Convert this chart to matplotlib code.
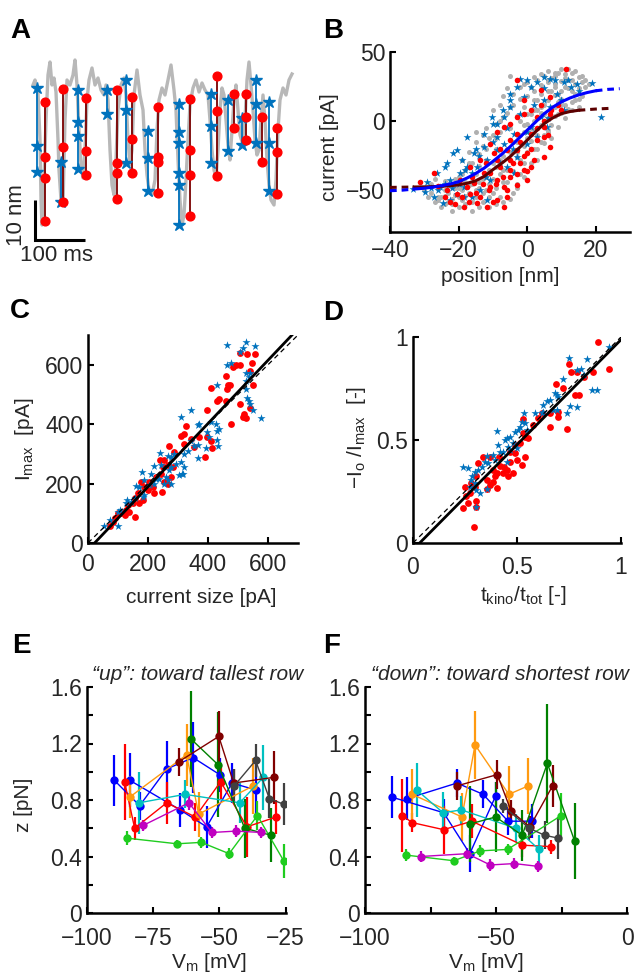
import matplotlib
matplotlib.use("Agg")
import matplotlib.pyplot as plt

plt.rcParams['font.family'] = ['Liberation Sans', 'DejaVu Sans']
plt.rcParams['font.size'] = 15
plt.rcParams['xtick.labelsize'] = 16.5
plt.rcParams['ytick.labelsize'] = 16.5
plt.rcParams['mathtext.fontset'] = 'custom'
plt.rcParams['mathtext.rm'] = 'Liberation Sans'
plt.rcParams['mathtext.it'] = 'Liberation Sans:italic'
plt.rcParams['axes.linewidth'] = 1.8
plt.rcParams['xtick.direction'] = 'in'
plt.rcParams['ytick.direction'] = 'in'
plt.rcParams['xtick.major.size'] = 4
plt.rcParams['ytick.major.size'] = 4
plt.rcParams['xtick.minor.size'] = 4
plt.rcParams['ytick.minor.size'] = 4
plt.rcParams['xtick.major.width'] = 1.5
plt.rcParams['ytick.major.width'] = 1.5
plt.rcParams['xtick.minor.width'] = 1.5
plt.rcParams['ytick.minor.width'] = 1.5

INK = '#262626'
MBLUE = '#0072bd'

# ---------------- panel A: trace (ms, nm) ----------------
trace_t = [6, 10, 16, 20, 22, 24, 28, 32, 36, 40, 44, 48, 52, 56, 58, 62, 66, 70, 74, 80,
           86, 90, 94, 98, 102, 106, 110, 114, 118, 124, 130, 136, 142, 148, 152, 156, 160,
           164, 168, 172, 176, 182, 188, 192, 196, 200, 204, 208, 214, 220, 226, 230, 234,
           238, 244, 250, 254, 258, 264, 270, 276, 282, 288, 292, 296, 300, 304, 308, 312,
           316, 320, 326, 332, 338, 344, 350, 356, 360, 364, 368, 372, 376, 380, 384, 388,
           392, 396, 400, 404, 408, 412, 416, 420, 426, 430, 434, 438, 442, 446, 450, 454,
           458, 462, 466, 470, 474, 478, 482, 488, 492, 496, 500, 506, 512, 518, 524]
trace_z = [41.25, 42.5, 39.5, 27.5, 12.5, 6.25, 17.5, 32.5, 43.75, 47, 41.25, 43, 39.5, 27.5,
           20, 12.5, 11.25, 32.5, 42.5, 41.25, 43.75, 47.5, 41.25, 30, 21.25, 18, 25, 37.5,
           42.5, 45.5, 41.25, 43, 40, 38.75, 41.25, 37.5, 25, 16.25, 13.75, 22.5, 35, 41.25,
           43, 38.75, 27.5, 21.25, 25, 38.75, 45, 38.75, 35, 25, 18.75, 15, 13.75, 17.5, 30,
           37.5, 40.5, 38.75, 42.5, 46.25, 40, 35, 22.5, 12.5, 6.25, 8.75, 17.5, 27.5, 36.25,
           40.5, 42.5, 39.5, 41.75, 40, 38.75, 32.5, 25, 20, 18, 25, 35, 40.5, 38.75, 32.5,
           26.25, 22.5, 30, 37.5, 41.25, 35, 28.75, 26.25, 32.5, 42.5, 47, 41.25, 35, 27.5,
           23.75, 25, 32.5, 38.75, 32.5, 22.5, 16.25, 12.5, 11.25, 17.5, 30, 37.5, 40.5,
           38.75, 42.5, 44]

a_blue_t = [14, 62, 96, 154, 192, 236, 298, 362, 396, 424, 452, 478]
a_blue_z = [[40.5, 26, 19.5], [22, 12], [40, 32, 28.5, 20.25], [40, 34], [42.5, 35, 21.75],
            [29.75, 23, 14.75], [36.5, 29.5, 26.75, 19.25, 16.25, 6.25], [39, 31, 21.75],
            [37.5, 24.75], [33, 26.25], [42.5, 36.5, 26.75], [37, 26.75, 14.75]]
a_red_t = [30, 66, 112, 174, 204, 256, 320, 374, 408, 432, 464, 494]
a_red_z = [[37, 23.25, 18, 7.25], [40.25, 25.75, 12], [38, 24.75, 18.75],
           [40, 21.75, 19.25, 12.75], [38.25, 27.75, 19.25], [35.75, 23.25, 22, 14.25],
           [37.75, 25, 18.75, 8.5], [43.5, 34.75, 18.5], [39, 30.5], [39, 33.25, 27.5],
           [33.25, 22], [30.5, 24.5, 14]]

# ---------------- panel B: current vs position ----------------
b_gray_x = [5, 7, 9, 11, 12, 13, 14, 15, 16, 17, 10, 8, 6, 4, 3, 2, 1, -1, -3, -5, 0, 2, 4, 6, 8,
            10, 12, 14, 16, 13, 11, 9, 7, 5, 3, 1, -1, -2, -4, -6, -7, -8, -3, 0, 2, 4, 6, 8, 10,
            12, 15, 9, 7, 5, 3, 1, -1, -3, -5, -7, -9, -10, -12, -11, -13, -9, -7, -5, -3, -1,
            -6, -8, -10, -12, -14, -16, -15, -13, -11, -9, -7, -5, -3, -2, -17, -19, -18, -20,
            -22, -24, -26, -28, -25, -23, -21, -19, -17, -15, -13, -11, -9, -14, -16, -18, -20,
            -22, -24, -26, -28, -30, -27, -12, -10, -8, -6, -4, -20, -16, -14, 2, 4, 6, 0, 3,
            -1, -5, -2, -15, -8, 11, 13, 15, 6, 8,
            -26, -25, -24, -23, -22, -21, -20, -19, -18, -17, -16, -15, -14, -13, -12, -11, -10,
            -9, -8, -7, -6, -5, -4, -3, -2, -1, 0, 1, 2, 3, 4, 5, 6, 7, 8, 9, 10, 11, 12, 13, 14,
            15, 16, 17, 18, -2, 0, 2, 4, 6, 8, 10, -4, -6, -8, -10, -12, -14, -16, -18, -20, -22,
            -24, -11, -7, -5, -3, -1, 1, 3, 5, 7, 9, 11, 13, 14, -9, -13, -15, -17, -19, -21,
            -23, -25, -27, -29, -6, -4, -2, 0, 2, 4, 6, 8, 10]
b_gray_y = [33, 31, 35, 34, 38, 30, 27, 32, 28, 25, 29, 27, 28, 26, 30, 22, 25, 27, 30, 33, 18,
            15, 20, 22, 19, 22, 24, 20, 18, 14, 12, 14, 10, 12, 8, 5, 10, 16, 20, 24, 18, 12, 4,
            -2, -6, -3, 2, 4, 6, 9, 10, -4, -12, -16, -10, -14, -8, -15, -5, 3, -2, 8, -5, -12,
            -18, -20, -25, -22, -26, -30, -35, -38, -30, -28, -24, -30, -38, -42, -45, -48, -44,
            -40, -45, -38, -22, -28, -35, -40, -45, -50, -48, -52, -55, -58, -53, -57, -52, -55,
            -58, -55, -60, -62, -65, -60, -62, -65, -60, -57, -45, -50, -42, -50, -52, -55, -50,
            -52, -48, -45, -48, -20, -15, -8, -22, -28, -18, 10, 0, -8, -8, 31, 22, 16, 30, 35,
            -55, -47, -43, -52, -56, -48, -44, -50, -54, -46, -58, -50, -44, -52, -40, -35, -42,
            -33, -28, -35, -20, -28, -15, -22, -10, -3, 5, -5, 8, 15, 10, 5, 15, 22, 25, 20, 16,
            25, 30, 35, 36, 24, 33, 30, 27, 25, 28, 32, 34, 36, 33, 38, 12, 6, 0, -10, -20, -32,
            -40, -44, -55, -60, -54, -62, -58, -56, -48, -40, -30, -20, -10, -3, 5, 2, 8, 15,
            -12, -10, -15, -30, -38, -42, -46, -62, -58, -55, -44, -36, -28, -12, 0, 6, -6, 10,
            12]
b_blue_x = [-2.1, 6.8, 10.7, 19.0, 21.5, 4.9, -1.0, -4.9, -10.2, -8.8, -12.7, -17.6, -20.5,
            -21.5, -23.4, -23.9, -26.3, -29.3, -29.8, -33.2, -24.4, -20.5, -18.5, -16.1, -14.6,
            -11.7, -8.8, -6.8, -3.9, 1.0, 3.9, 6.8, 8.8, 12.7, 14.6, 1.0, -4.9, -6.8, -8.8,
            -12.7, -15.6, -17.6, -19.5, -22.4, -25.4, -18.5, -13.7, -10.7, -5.9, -2.9, 0, 2.9,
            5.9, 10.7, 4.9, -3.9, -11.7, -22.4, -27.3,
            -5, -3, 0, 3, 8, 12, 15, 2, -2, -6, -10, -14, -18, -22, -26, -16, -8, -4, 0, 6, 10,
            -12, -20, -24, -28, -10, -7, -15, -19, 5]
b_blue_y = [30.3, 30.8, 28.4, 27.6, 3.1, 15.1, 17.5, 10.3, 3.1, -1.7, -8.9, -11.3, -20.9,
            -23.3, -30.5, -32.9, -37.7, -43.8, -51, -48.6, -59.4, -52.2, -47.4, -37.7, -32.9,
            -28.1, -20.9, -16.1, -8.9, -4.1, 3.1, 10.3, 20.0, 24.8, 27.2, 24.8, 15.1, 3.1,
            -11.3, -18.5, -23.3, -32.9, -37.7, -42.5, -47.4, -54.6, -49.8, -42.5, -32.9, -25.7,
            -16.1, -11.3, -4.1, 7.9, 32.0, -37.7, -57.0, -57.0, -54.6,
            20, 25, 30, 28, 30, 30, 22, 12, 5, -5, -15, -25, -35, -48, -50, -55, -30, -20, -8, 2,
            15, -40, -45, -45, -48, -2, 8, -20, -28, 24]
b_red_x = [11.2, -1.0, 1.0, -2.9, -6.8, -8.8, -10.7, -4.9, -2.9, 0, 4.9, 6.8, 2.9, 4.9, 0, -2.9,
           -5.9, -6.8, -8.8, -11.7, -14.6, -18.5, -22.4, -20.5, -23.4, -27.3, -31.2, -19.5,
           -16.6, -13.7, -10.7, -7.8, -4.9, -2.0, 1.0, -5.9, -8.8, -12.7, -15.6, -17.6, 2.9,
           6.8, 9.8, -2.9, 1.0, 4.9, -6.8, -10.7, -13.7, -16.6, -8.8, -4.9, -1.0, 3.9, -2.9,
           6.8, -4.9, -9.8,
           -26, -24, -21, -19, -17, -15, -13, -11, -9, -7, -5, -3, -1, 1, 3, 5, 7, 9, -4, -8, -12,
           -16, -2, 2, 0, -6, -10, 4, -1, 6]
b_red_y = [38.0, 15.1, 7.9, 3.1, -4.1, -7.7, -16.1, -13.7, -20.9, -23.3, -25.7, -18.5, -13.7,
           -4.1, -42.5, -46.2, -54.6, -61.8, -57.0, -61.8, -59.4, -61.8, -58.2, -52.2, -49.8,
           -37.7, -43.8, -42.5, -32.9, -28.1, -37.7, -32.9, -28.1, -30.5, -32.9, -20.9, -28.1,
           -37.7, -44.9, -47.4, 3.1, 5.5, 7.9, -8.9, -8.9, -11.3, -47.4, -47.4, -54.6, -52.2,
           -42.5, -40.1, -35.3, 22.4, 29.6, 17.5, -1.7, -23.3,
           -47, -55, -60, -55, -58, -52, -45, -50, -45, -40, -35, -38, -25, -20, -5, 0, 8, 12,
           -30, -20, -30, -40, -15, -28, -36, -50, -58, 12, 5, -10]
fit_blue_x = [-33, -30, -27.5, -25, -22.5, -20, -17.5, -15, -12.5, -10, -7.5, -5, -2.5, 0, 2.5,
              5, 7.5, 10, 12.5, 15, 17.5, 20]
fit_blue_y = [-49, -48.4, -47.6, -46.6, -45.3, -43.7, -41, -37.7, -33.8, -29, -24, -18.5,
              -12.5, -6.5, -0.5, 5.5, 10.2, 14, 16.8, 19, 20.7, 22]
ext_blue_x = [[-40, -36.5, -33], [20, 23.5, 27]]
ext_blue_y = [[-50.2, -49.8, -49], [22, 23, 23.5]]
fit_red_x = [-33, -30, -27.5, -25, -22.5, -20, -17.5, -15, -12.5, -10, -7.5, -5, -2.5, 0, 2.5,
             5, 7.5, 10, 12.5, 15]
fit_red_y = [-47.5, -47.4, -47.2, -47, -46.6, -46, -44.8, -43, -39.8, -35, -30.5, -25.7,
             -19.7, -13.7, -7.5, -1.7, 2.5, 5.5, 7, 7.9]
ext_red_x = [[-40, -33], [15, 20, 25]]
ext_red_y = [[-47.8, -47.5], [7.9, 8.8, 9.4]]

# ---------------- panel C: Imax vs current size ----------------
c_red_x = [508, 530, 555, 547, 508, 492, 484, 541, 459, 466, 473, 462, 550, 431, 436, 459, 409,
           398, 508, 541, 519, 525, 517, 475, 326, 320, 309, 343, 370, 354, 398, 409, 389, 414,
           271, 241, 249, 265, 282, 243, 276, 254, 265, 245, 215, 204, 177, 188, 219, 166, 157,
           171, 149, 133, 127, 111, 99, 155, 91, 83, 72, 287, 320, 254, 227, 199, 182, 138, 122]
c_red_y = [639, 636, 636, 606, 600, 598, 591, 580, 561, 531, 531, 517, 531, 478, 483, 478, 520,
           447, 469, 453, 433, 420, 424, 402, 394, 367, 361, 350, 356, 322, 356, 344, 291, 320,
           328, 278, 256, 261, 256, 233, 222, 206, 198, 170, 189, 206, 206, 189, 167, 167, 150,
           133, 133, 128, 111, 100, 100, 89, 83, 72, 56, 306, 333, 278, 222, 178, 144, 106, 94]
c_blue_x = [464, 528, 555, 517, 506, 475, 462, 528, 541, 536, 525, 525, 530, 536, 541, 550, 575,
            429, 343, 309, 370, 367, 409, 425, 436, 431, 398, 403, 431, 433, 392, 365, 367, 332,
            320, 309, 312, 318, 304, 320, 276, 265, 241, 278, 271, 260, 265, 254, 238, 219, 210,
            179, 204, 221, 171, 160, 188, 182, 155, 144, 130, 127, 108, 99, 72, 53, 99, 188, 276,
            293, 243, 227, 343, 354, 287]
c_blue_y = [667, 678, 664, 655, 642, 606, 598, 572, 572, 558, 544, 517, 489, 478, 467, 447, 420,
            531, 448, 424, 402, 398, 406, 400, 383, 378, 372, 356, 347, 328, 320, 331, 287, 309,
            300, 272, 231, 231, 228, 256, 289, 294, 302, 256, 244, 222, 211, 200, 217, 258, 231,
            239, 194, 200, 189, 191, 161, 156, 150, 139, 144, 133, 111, 106, 78, 56, 58, 213, 200,
            267, 261, 217, 344, 328, 300]
c_fit_x = [22, 680]
c_fit_y = [0, 700]
c_unity = [0, 700]

# ---------------- panel D: -Io/Imax vs tkino/ttot ----------------
d_red_x = [0.889, 0.941, 0.865, 0.820, 0.748, 0.759, 0.788, 0.796, 0.780, 0.688, 0.720, 0.740,
           0.699, 0.699, 0.659, 0.659, 0.603, 0.619, 0.579, 0.531, 0.531, 0.539, 0.539, 0.523,
           0.502, 0.490, 0.466, 0.466, 0.482, 0.458, 0.434, 0.437, 0.418, 0.405, 0.394, 0.383,
           0.402, 0.370, 0.354, 0.338, 0.370, 0.314, 0.305, 0.297, 0.281, 0.273, 0.257, 0.249,
           0.238, 0.265, 0.305, 0.302, 0.293, 0.354, 0.415, 0.514, 0.555, 0.490, 0.450, 0.386]
d_red_y = [0.976, 0.847, 0.831, 0.806, 0.871, 0.831, 0.831, 0.718, 0.718, 0.771, 0.750, 0.552,
           0.637, 0.610, 0.629, 0.561, 0.605, 0.629, 0.573, 0.600, 0.535, 0.513, 0.419, 0.379,
           0.403, 0.435, 0.444, 0.395, 0.339, 0.323, 0.339, 0.371, 0.374, 0.339, 0.323, 0.298,
           0.266, 0.282, 0.261, 0.419, 0.419, 0.387, 0.323, 0.274, 0.290, 0.242, 0.226, 0.274,
           0.169, 0.194, 0.202, 0.177, 0.076, 0.306, 0.419, 0.484, 0.508, 0.476, 0.355, 0.355]
d_blue_x = [0.941, 0.836, 0.748, 0.807, 0.788, 0.820, 0.723, 0.683, 0.691, 0.699, 0.659, 0.643,
            0.627, 0.619, 0.587, 0.627, 0.672, 0.756, 0.788, 0.860, 0.887, 0.740, 0.691, 0.534,
            0.539, 0.514, 0.506, 0.490, 0.466, 0.450, 0.442, 0.402, 0.482, 0.458, 0.498, 0.466,
            0.434, 0.418, 0.386, 0.354, 0.346, 0.362, 0.330, 0.314, 0.297, 0.286, 0.265, 0.238,
            0.281, 0.297, 0.273, 0.305, 0.322, 0.354, 0.305, 0.394, 0.410, 0.523, 0.547, 0.450]
d_blue_y = [0.952, 0.895, 0.900, 0.847, 0.839, 0.815, 0.798, 0.729, 0.718, 0.710, 0.694, 0.690,
            0.669, 0.629, 0.632, 0.637, 0.645, 0.665, 0.658, 0.742, 0.742, 0.629, 0.645, 0.629,
            0.581, 0.565, 0.548, 0.540, 0.516, 0.508, 0.500, 0.544, 0.484, 0.468, 0.460, 0.452,
            0.444, 0.444, 0.427, 0.423, 0.395, 0.387, 0.371, 0.355, 0.347, 0.326, 0.363, 0.368,
            0.306, 0.290, 0.274, 0.258, 0.242, 0.261, 0.177, 0.403, 0.476, 0.589, 0.548, 0.395]
d_fit_x = [0.032, 1.0]
d_fit_y = [0.0, 0.987]
d_unity = [0, 1]

# ---------------- panels E/F: z vs Vm per cell ----------------
cell_colors = ['#0000ff', '#0000ff', '#ff0000', '#ff9a10', '#00c0c0', '#1fcc1f', '#008000',
               '#800000', '#c000c0', '#404040']
e_vm = [[-89.7, -80.1, -69.9, -59.9, -49.9],
        [-83.9, -64.8, -54.8, -45.2, -36.0],
        [-85.8, -82.0, -69.9, -59.1, -49.5, -39.6, -28.5],
        [-83.9, -62.4, -57.8, -37.2],
        [-80.4, -63.0, -42.3, -33.4],
        [-84.9, -66.0, -56.8, -46.3, -35.6, -25.7],
        [-60.6, -50.5, -40.4, -30.4],
        [-65.4, -50.2, -44.6, -29.5],
        [-78.8, -61.5, -52.8, -43.6, -34.1],
        [-44.4, -36.3, -31.1, -25.7]]
e_z = [[0.94, 0.76, 1.02, 1.10, 0.98],
       [0.94, 0.73, 0.61, 0.92, 0.87],
       [0.93, 0.60, 0.78, 0.68, 0.93, 0.61, 0.68],
       [0.82, 1.12, 0.70, 0.90],
       [0.78, 0.84, 0.78, 0.96],
       [0.53, 0.49, 0.50, 0.42, 0.69, 0.37],
       [1.23, 1.05, 0.60, 0.55],
       [1.07, 1.25, 0.92, 0.96],
       [0.62, 0.78, 0.57, 0.58, 0.57],
       [0.90, 1.08, 0.81, 0.77]]
e_err = [[0.18, 0.10, 0.20, 0.25, 0.12],
         [0.19, 0.12, 0.15, 0.14, 0.20],
         [0.27, 0.08, 0.15, 0.10, 0.12, 0.21, 0.12],
         [0.15, 0.22, 0.16, 0.20],
         [0.22, 0.10, 0.14, 0.23],
         [0.05, 0.03, 0.04, 0.04, 0.10, 0.12],
         [0.34, 0.37, 0.21, 0.19],
         [0.10, 0.18, 0.10, 0.19],
         [0.04, 0.05, 0.04, 0.04, 0.04],
         [0.12, 0.12, 0.14, 0.15]]
f_vm = [[-89.7, -70.0, -60.0, -50.1],
        [-83.9, -64.9, -54.9, -45.4, -36.3],
        [-85.8, -82.0, -70.0, -59.2, -39.9, -28.9],
        [-82.0, -63.0, -58.0, -45.1, -37.7],
        [-80.2, -70.2, -63.2, -42.4, -33.6],
        [-84.4, -66.1, -56.0, -45.6, -25.1],
        [-60.0, -50.1, -40.0, -30.4, -20.0],
        [-64.9, -49.5, -44.2, -37.1, -28.4],
        [-78.7, -61.0, -52.2, -43.0, -33.9],
        [-47.5, -37.3, -31.4, -26.2]]
f_z = [[0.82, 0.71, 0.42, 0.83],
       [0.81, 0.92, 0.84, 0.65, 0.65],
       [0.69, 0.64, 0.59, 0.65, 0.48, 0.47],
       [0.84, 0.68, 1.19, 0.84, 0.90],
       [0.87, 0.71, 0.73, 0.60, 0.45],
       [0.41, 0.37, 0.44, 0.45, 0.69],
       [0.63, 0.68, 0.55, 1.06, 0.51],
       [0.90, 0.98, 0.72, 0.61, 0.90],
       [0.40, 0.42, 0.34, 0.35, 0.33],
       [0.76, 0.60, 0.55, 0.53]]
f_err = [[0.15, 0.10, 0.13, 0.10],
         [0.15, 0.10, 0.10, 0.10, 0.12],
         [0.26, 0.07, 0.17, 0.12, 0.08, 0.05],
         [0.18, 0.17, 0.24, 0.20, 0.20],
         [0.19, 0.15, 0.10, 0.10, 0.10],
         [0.04, 0.03, 0.04, 0.04, 0.16],
         [0.27, 0.25, 0.18, 0.42, 0.27],
         [0.10, 0.10, 0.08, 0.08, 0.15],
         [0.04, 0.04, 0.04, 0.04, 0.04],
         [0.05, 0.08, 0.10, 0.15]]

W, H = 634, 976
fig = plt.figure(figsize=(W / 100, H / 100), dpi=100)


def rect(l, t, r, b):
    return [l / W, 1 - b / H, (r - l) / W, (b - t) / H]


def style(ax, xpad):
    for s in ('top', 'right'):
        ax.spines[s].set_visible(False)
    for s in ('left', 'bottom'):
        ax.spines[s].set_color('black')
    ax.tick_params(which='both', colors='black', labelcolor=INK)
    ax.tick_params(axis='x', which='both', pad=xpad)


def labels(ax, xl, xpos, yl=None, ypos=None):
    ax.set_xlabel(xl, color=INK, va='center', ha='center')
    ax.xaxis.set_label_coords(*xpos)
    if yl is not None:
        ax.set_ylabel(yl, color=INK, va='center', ha='center')
        ax.yaxis.set_label_coords(*ypos)


def letter(x, y, s):
    fig.text(x / W, 1 - y / H, s, fontsize=20, fontweight='bold', ha='left', va='baseline')


# ---- A ----
axA = fig.add_axes(rect(30, 55, 295, 250))
axA.set_xlim(0, 530)
axA.set_ylim(0, 48.75)
axA.axis('off')
axA.plot(trace_t, trace_z, color='#b8b8b8', lw=2.4, zorder=1)
for t, zs, tr, zr in zip(a_blue_t, a_blue_z, a_red_t, a_red_z):
    axA.plot([t] * len(zs), zs, color=MBLUE, lw=1.3, marker='*', ms=9, zorder=3)
    axA.plot([tr] * len(zr), zr, color='#7a0000', lw=1.3, zorder=2)
    axA.plot([tr] * len(zr), zr, ls='none', marker='o', ms=6.3, color='#ff0000', zorder=4)
axA.plot([10, 10, 110], [12.5, 2.5, 2.5], color='black', lw=2.2, clip_on=False,
         solid_joinstyle='miter', solid_capstyle='butt')
axA.text(-26, 8.75, '10 nm', rotation=90, ha='center', va='center', color=INK, fontsize=16)
axA.text(54, -1.5, '100 ms', ha='center', va='center', color=INK, clip_on=False, fontsize=16)
letter(10, 38, 'A')

# ---- B ----
axB = fig.add_axes(rect(390, 52, 630, 232))
axB.scatter(b_gray_x, b_gray_y, s=13, color='#b0b0b0', linewidths=0, zorder=1)
axB.scatter(b_blue_x, b_blue_y, s=36, marker='*', color=MBLUE, linewidths=0, zorder=2)
axB.scatter(b_red_x, b_red_y, s=16, color='#ff0000', linewidths=0, zorder=3)
axB.plot(fit_red_x, fit_red_y, color='#5c0000', lw=2.2, zorder=4)
axB.plot(fit_blue_x, fit_blue_y, color='#0000ff', lw=2.2, zorder=5)
for xs, ys in zip(ext_red_x, ext_red_y):
    axB.plot(xs, ys, color='#5c0000', lw=2.2, ls=(0, (2.2, 1.6)), zorder=4)
for xs, ys in zip(ext_blue_x, ext_blue_y):
    axB.plot(xs, ys, color='#0000ff', lw=2.2, ls=(0, (2.2, 1.6)), zorder=5)
axB.set_xlim(-40, 30)
axB.set_ylim(-80, 50)
axB.set_xticks([-40, -20, 0, 20])
axB.set_yticks([-50, 0, 50])
style(axB, 5)
labels(axB, 'position [nm]', (0.458, -0.25), 'current [pA]', (-0.25, 0.472))
letter(323, 38, 'B')

# ---- C ----
axC = fig.add_axes(rect(88, 335, 298, 543))
axC.scatter(c_red_x, c_red_y, s=24, color='#ff0000', linewidths=0, zorder=2)
axC.scatter(c_blue_x, c_blue_y, s=38, marker='*', color=MBLUE, linewidths=0, zorder=3)
axC.plot(c_unity, c_unity, color='black', lw=0.9, ls=(0, (4, 3)), zorder=4)
axC.plot(c_fit_x, c_fit_y, color='black', lw=2.0, zorder=5)
axC.set_xlim(0, 700)
axC.set_ylim(0, 700)
axC.set_xticks([0, 200, 400, 600])
axC.set_yticks([0, 200, 400, 600])
style(axC, 7)
labels(axC, 'current size [pA]', (0.538, -0.264), r'I$_{\rm max}$  [pA]', (-0.30, 0.50))
letter(10, 318, 'C')

# ---- D ----
axD = fig.add_axes(rect(413, 337, 621, 543))
axD.scatter(d_red_x, d_red_y, s=24, color='#ff0000', linewidths=0, zorder=2)
axD.scatter(d_blue_x, d_blue_y, s=38, marker='*', color=MBLUE, linewidths=0, zorder=3)
axD.plot(d_unity, d_unity, color='black', lw=0.9, ls=(0, (4, 3)), zorder=4)
axD.plot(d_fit_x, d_fit_y, color='black', lw=2.0, zorder=5)
axD.set_xlim(0, 1)
axD.set_ylim(0, 1)
axD.set_xticks([0, 0.5, 1])
axD.set_xticklabels(['0', '0.5', '1'])
axD.set_yticks([0, 0.5, 1])
axD.set_yticklabels(['0', '0.5', '1'])
style(axD, 9)
labels(axD, r't$_{\rm kino}$/t$_{\rm tot}$ [-]', (0.529, -0.257),
       r'$-$I$_{\rm o}$ /I$_{\rm max}$  [-]', (-0.274, 0.515))
letter(323, 320, 'D')


# ---- E / F ----
def cells(ax, vms, zs, errs):
    for c, x, y, e in zip(cell_colors, vms, zs, errs):
        ax.errorbar(x, y, yerr=e, color=c, marker='o', ms=6, lw=1.0, elinewidth=1.6,
                    capsize=0, markeredgewidth=0)
    ax.set_ylim(0, 1.6)
    ax.set_yticks([0, 0.4, 0.8, 1.2, 1.6])
    ax.set_yticklabels(['0', '0.4', '0.8', '1.2', '1.6'])
    ax.set_yticks([0.2, 0.6, 1.0, 1.4], minor=True)


axE = fig.add_axes(rect(87, 687, 285.5, 913))
cells(axE, e_vm, e_z, e_err)
axE.set_xlim(-100, -25)
axE.set_xticks([-100, -75, -50, -25])
style(axE, 10)
labels(axE, r'V$_{\rm m}$ [mV]', (0.616, -0.217), 'z [pN]', (-0.318, 0.478))
axE.text(0.556, 1.055, '\u201cup\u201d: toward tallest row', transform=axE.transAxes,
         ha='center', va='center', style='italic', color=INK)
letter(12, 653, 'E')

axF = fig.add_axes(rect(365, 687, 627, 913))
cells(axF, f_vm, f_z, f_err)
axF.set_xlim(-100, 0)
axF.set_xticks([-100, -50, 0])
axF.set_xticks([-75, -25], minor=True)
style(axF, 10)
labels(axF, r'V$_{\rm m}$ [mV]', (0.462, -0.217))
axF.text(0.515, 1.055, '\u201cdown\u201d: toward shortest row', transform=axF.transAxes,
         ha='center', va='center', style='italic', color=INK)
letter(323, 653, 'F')

fig.savefig('out.png', dpi=100)
